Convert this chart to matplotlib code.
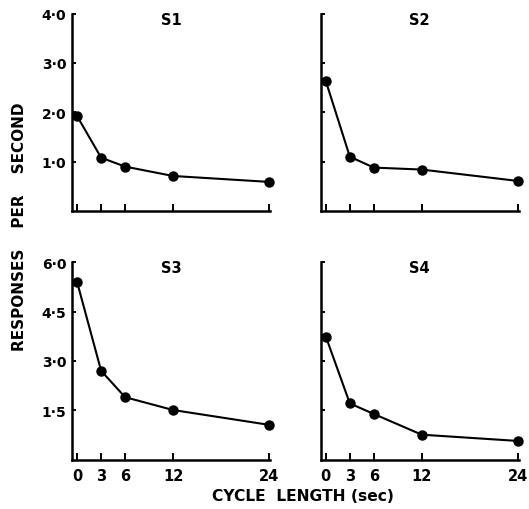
import matplotlib
matplotlib.use("Agg")
import matplotlib.pyplot as plt

# cycle length (sec) and response rate per subject
cycle = [0, 3, 6, 12, 24]
s1 = [1.92, 1.08, 0.90, 0.71, 0.59]
s2 = [2.63, 1.10, 0.88, 0.84, 0.61]
s3 = [5.39, 2.70, 1.90, 1.51, 1.06]
s4 = [3.74, 1.71, 1.39, 0.76, 0.57]
subjects = ["S1", "S2", "S3", "S4"]

top_ticks = [1.0, 2.0, 3.0, 4.0]
top_labels = ["1·0", "2·0", "3·0", "4·0"]
bottom_ticks = [1.5, 3.0, 4.5, 6.0]
bottom_labels = ["1·5", "3·0", "4·5", "6·0"]
x_labels = ["0", "3", "6", "12", "24"]

plt.rcParams["font.family"] = "DejaVu Sans"
plt.rcParams["font.weight"] = "bold"

fig = plt.figure(figsize=(5.29, 5.10), dpi=100)

w, h = 0.3745, 0.387
boxes = [
    (0.1361, 0.5843, w, h),
    (0.6062, 0.5843, w, h),
    (0.1361, 0.0967, w, h),
    (0.6062, 0.0967, w, h),
]
series = [s1, s2, s3, s4]

for i, (box, ys, name) in enumerate(zip(boxes, series, subjects)):
    ax = fig.add_axes(box)
    ax.plot(cycle, ys, color="black", lw=1.5, marker="o", ms=6.5, clip_on=False, zorder=3)
    ax.set_xlim(-0.65, 24.15)
    if i < 2:
        ax.set_ylim(0, 4)
        ax.set_yticks(top_ticks)
        ax.set_yticklabels(top_labels if i == 0 else [])
    else:
        ax.set_ylim(0, 6)
        ax.set_yticks(bottom_ticks)
        ax.set_yticklabels(bottom_labels if i == 2 else [])
    ax.set_xticks(cycle)
    ax.set_xticklabels(x_labels if i >= 2 else [])
    for side in ("top", "right"):
        ax.spines[side].set_visible(False)
    for side in ("left", "bottom"):
        ax.spines[side].set_linewidth(1.8)
    ax.tick_params(axis="y", direction="in", length=3, width=1.4, pad=4, labelsize=10)
    ax.tick_params(axis="x", direction="in", length=5, width=1.4, pad=6, labelsize=10.5)
    ax.text(0.5, 0.972, name, transform=ax.transAxes, ha="center", va="center",
            fontsize=10.5, fontweight="bold")

fig.text(0.036, 0.556, "RESPONSES    PER    SECOND", rotation=90, ha="center", va="center",
         fontsize=11, fontweight="bold")
fig.text(0.573, 0.026, "CYCLE  LENGTH (sec)", ha="center", va="center",
         fontsize=11.2, fontweight="bold")

fig.savefig("out.png", dpi=100)
